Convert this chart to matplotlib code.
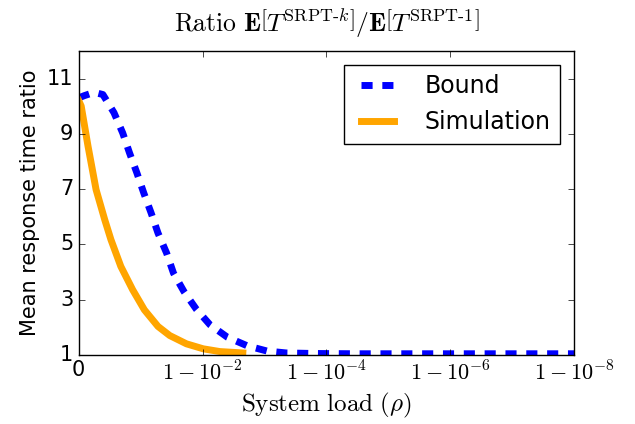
import matplotlib
matplotlib.use("Agg")
import matplotlib.pyplot as plt

plt.style.use("classic")

# x is -log10(1 - rho), so 2 means rho = 1 - 10^-2
bound_x = [0.0, 0.09, 0.25, 0.39, 0.57, 0.71, 0.82, 0.94, 1.05, 1.17, 1.28, 1.42,
           1.53, 1.70, 1.90, 2.12, 2.40, 2.72, 3.04, 3.35, 3.8, 4.5, 5.5, 6.5, 8.0]
bound_ratio = [10.3, 10.38, 10.5, 10.42, 9.76, 9.03, 8.31, 7.58, 6.86, 6.13, 5.41, 4.68,
               3.96, 3.29, 2.65, 2.09, 1.64, 1.33, 1.14, 1.07, 1.05, 1.04, 1.04, 1.04, 1.04]

sim_x = [0.0, 0.04, 0.15, 0.28, 0.42, 0.52, 0.68, 0.87, 1.06, 1.28, 1.47, 1.74,
         2.01, 2.28, 2.65]
sim_ratio = [10.2, 10.0, 8.55, 6.98, 5.89, 5.17, 4.2, 3.36, 2.63, 2.03, 1.7, 1.4,
             1.22, 1.12, 1.07]

xticks = [0, 2, 4, 6, 8]
xtick_labels = ["0", r"$1-10^{-2}$", r"$1-10^{-4}$", r"$1-10^{-6}$", r"$1-10^{-8}$"]
yticks = [1, 3, 5, 7, 9, 11]

fig = plt.figure(figsize=(6.35, 4.24), dpi=100, facecolor="white")
ax = fig.add_axes([0.124, 0.163, 0.78, 0.717])

ax.plot(bound_x, bound_ratio, color="blue", linewidth=5, dashes=(8, 7),
        label="Bound")
ax.plot(sim_x, sim_ratio, color="orange", linewidth=5, label="Simulation")

ax.set_xlim(0, 8)
ax.set_ylim(1, 12)
ax.set_xticks(xticks)
ax.set_xticklabels(xtick_labels)
ax.set_yticks(yticks)
ax.tick_params(labelsize=15)
for lbl in ax.get_xticklabels()[1:]:
    lbl.set_fontsize(16)

ax.set_ylabel("Mean response time ratio", fontsize=15)
ax.set_xlabel(r"$\mathrm{System\ load}\ (\rho)$", fontsize=18)
ax.set_title(r"$\mathrm{Ratio}\ \mathbf{E}\left[T^{\mathrm{SRPT}\text{-}k}\right]"
             r"/\mathbf{E}\left[T^{\mathrm{SRPT}\text{-}1}\right]$",
             fontsize=18.5, y=1.04)

ax.legend(loc="upper right", fontsize=17, handlelength=2.0, handletextpad=1.0,
          borderaxespad=0.6)

fig.savefig("out.png", dpi=100, facecolor="white")
